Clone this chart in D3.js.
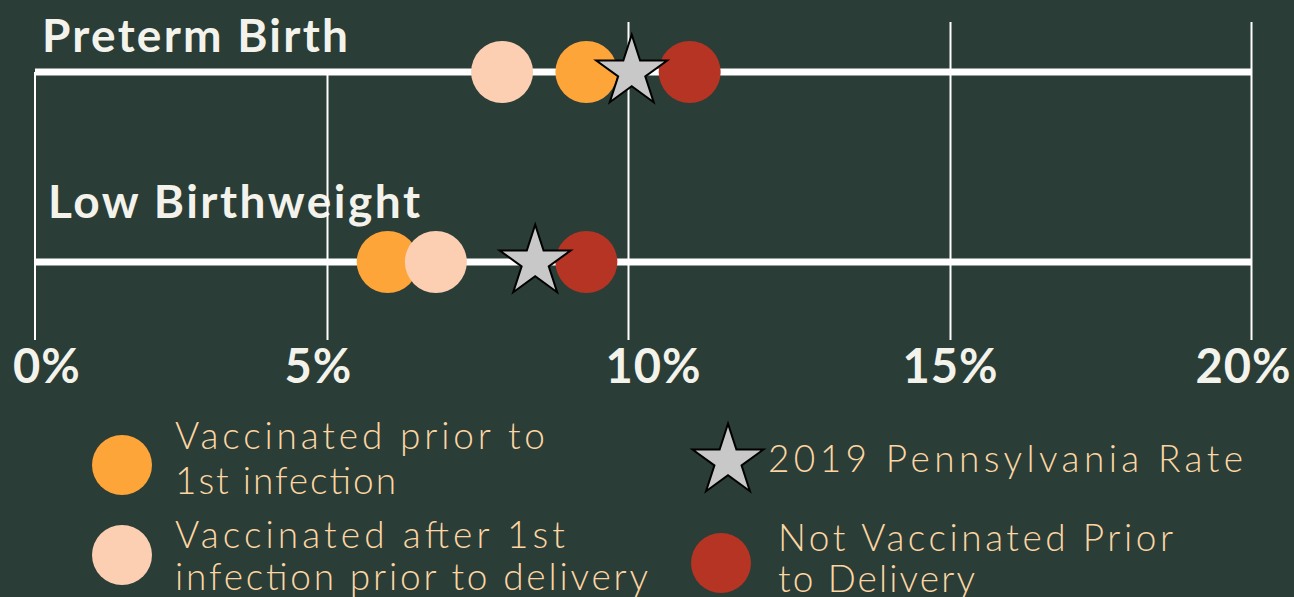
<!DOCTYPE html>
<html>
<head>
<meta charset="utf-8">
<script src="https://cdn.jsdelivr.net/npm/d3@7"></script>
<style>
  html, body { margin: 0; padding: 0; background: #2a3d37; }
  svg { display: block; }
</style>
</head>
<body>
<div id="chart"></div>
<script>
// values (percent)
const measures = ["Preterm Birth", "Low Birthweight"];
const vaxPrior = [9.3, 6.0];      // vaccinated prior to 1st infection
const vaxAfter = [7.9, 6.8];      // vaccinated after 1st infection prior to delivery
const notVax = [10.95, 9.3];      // not vaccinated prior to delivery
const paRate2019 = [10.05, 8.45]; // 2019 Pennsylvania rate
const ticks = [0, 5, 10, 15, 20];
const tickLabels = ["0%", "5%", "10%", "15%", "20%"];
const legendLabels = [
  ["Vaccinated prior to", "1st infection"],
  ["Vaccinated after 1st", "infection prior to delivery"],
  ["2019 Pennsylvania Rate"],
  ["Not Vaccinated Prior", "to Delivery"]
];

let width = 1294,
  height = 597;

const bg = "#2a3d37",
  orange = "#fea53a",
  peach = "#fdcfb2",
  red = "#b53423",
  starFill = "#c8c8c8",
  legendColor = "#fdd5a2",
  titleColor = "#f3f3ec";

// the gridlines in the source are not evenly spaced, so the scale follows them
let x = d3.scaleLinear()
  .domain(ticks)
  .range([35, 327.5, 628.5, 950.5, 1251.5]);

let y = d3.scalePoint()
  .domain(measures)
  .range([72, 262]);

const svg = d3.select("#chart")
  .append("svg")
  .attr("width", width)
  .attr("height", height)
  .attr("viewBox", [0, 0, width, height]);

svg.append("rect")
  .attr("width", width)
  .attr("height", height)
  .attr("fill", bg);

// row titles
const titleFit = [
  { x: 42, y: 52, len: 306 },
  { x: 48, y: 218, len: 372 }
];
svg.selectAll(".title")
  .data(measures)
  .join("text")
  .attr("class", "title")
  .attr("x", (d, i) => titleFit[i].x)
  .attr("y", (d, i) => titleFit[i].y)
  .attr("textLength", (d, i) => titleFit[i].len)
  .attr("lengthAdjust", "spacing")
  .attr("fill", titleColor)
  .attr("font-family", "Lato, 'Open Sans', sans-serif")
  .attr("font-weight", 700)
  .attr("font-size", 46)
  .text(d => d);

// vertical gridlines (hidden behind the first title on the left)
const titleRight = titleFit[0].x + titleFit[0].len + 5;
svg.append("g")
  .selectAll("line")
  .data(ticks)
  .join("line")
  .attr("x1", d => x(d))
  .attr("x2", d => x(d))
  .attr("y1", d => x(d) < titleRight ? y(measures[0]) : 22)
  .attr("y2", 340)
  .attr("stroke", "#fff")
  .attr("stroke-width", 2);

// horizontal tracks
svg.append("g")
  .selectAll("line")
  .data(measures)
  .join("line")
  .attr("x1", x(0))
  .attr("x2", x(20))
  .attr("y1", d => y(d))
  .attr("y2", d => y(d))
  .attr("stroke", "#fff")
  .attr("stroke-width", 7);

// tick labels, nudged like the hand-placed ones in the source
const labelNudge = [12, -9, 25, 0, -8];
svg.append("g")
  .selectAll("text")
  .data(ticks)
  .join("text")
  .attr("x", (d, i) => x(d) + labelNudge[i])
  .attr("y", 383)
  .attr("text-anchor", "middle")
  .attr("fill", titleColor)
  .attr("font-family", "Lato, 'Open Sans', sans-serif")
  .attr("font-weight", 700)
  .attr("font-size", 47)
  .attr("letter-spacing", 1)
  .text((d, i) => tickLabels[i]);

// dots
const r = 31;
const series = [
  { values: vaxPrior, color: orange },
  { values: vaxAfter, color: peach },
  { values: notVax, color: red }
];
const star = d3.symbol(d3.symbolStar, 1565);

series.forEach(s => {
  svg.append("g")
    .selectAll("circle")
    .data(measures)
    .join("circle")
    .attr("cx", (d, i) => x(s.values[i]))
    .attr("cy", d => y(d))
    .attr("r", r)
    .attr("fill", s.color);
});

svg.append("g")
  .selectAll("path")
  .data(measures)
  .join("path")
  .attr("d", star)
  .attr("transform", (d, i) => `translate(${x(paRate2019[i])},${y(d)})`)
  .attr("fill", starFill)
  .attr("stroke", "#000")
  .attr("stroke-width", 2)
  .attr("stroke-linejoin", "miter");

// legend
const legendItems = [
  { shape: "circle", color: orange, cx: 122, cy: 465, tx: 175, ty: [449, 494], len: [370, 221] },
  { shape: "circle", color: peach, cx: 122, cy: 555, tx: 175, ty: [548, 590], len: [390, 473] },
  { shape: "star", color: starFill, cx: 728, cy: 461, tx: 768, ty: [472], len: [475] },
  { shape: "circle", color: red, cx: 721, cy: 563, tx: 778, ty: [551, 592], len: [395, 197] }
];

const legend = svg.append("g")
  .selectAll("g")
  .data(legendItems)
  .join("g");

legend.each(function(d, i) {
  const g = d3.select(this);
  if (d.shape === "circle") {
    g.append("circle")
      .attr("cx", d.cx)
      .attr("cy", d.cy)
      .attr("r", 30)
      .attr("fill", d.color);
  } else {
    g.append("path")
      .attr("d", star)
      .attr("transform", `translate(${d.cx},${d.cy})`)
      .attr("fill", d.color)
      .attr("stroke", "#000")
      .attr("stroke-width", 2);
  }
  legendLabels[i].forEach((line, j) => {
    g.append("text")
      .attr("x", d.tx)
      .attr("y", d.ty[j])
      .attr("textLength", d.len[j])
      .attr("lengthAdjust", "spacing")
      .attr("fill", legendColor)
      .attr("font-family", "Lato, 'Open Sans', sans-serif")
      .attr("font-weight", 300)
      .attr("font-size", 37)
      .text(line);
  });
});
</script>
</body>
</html>
